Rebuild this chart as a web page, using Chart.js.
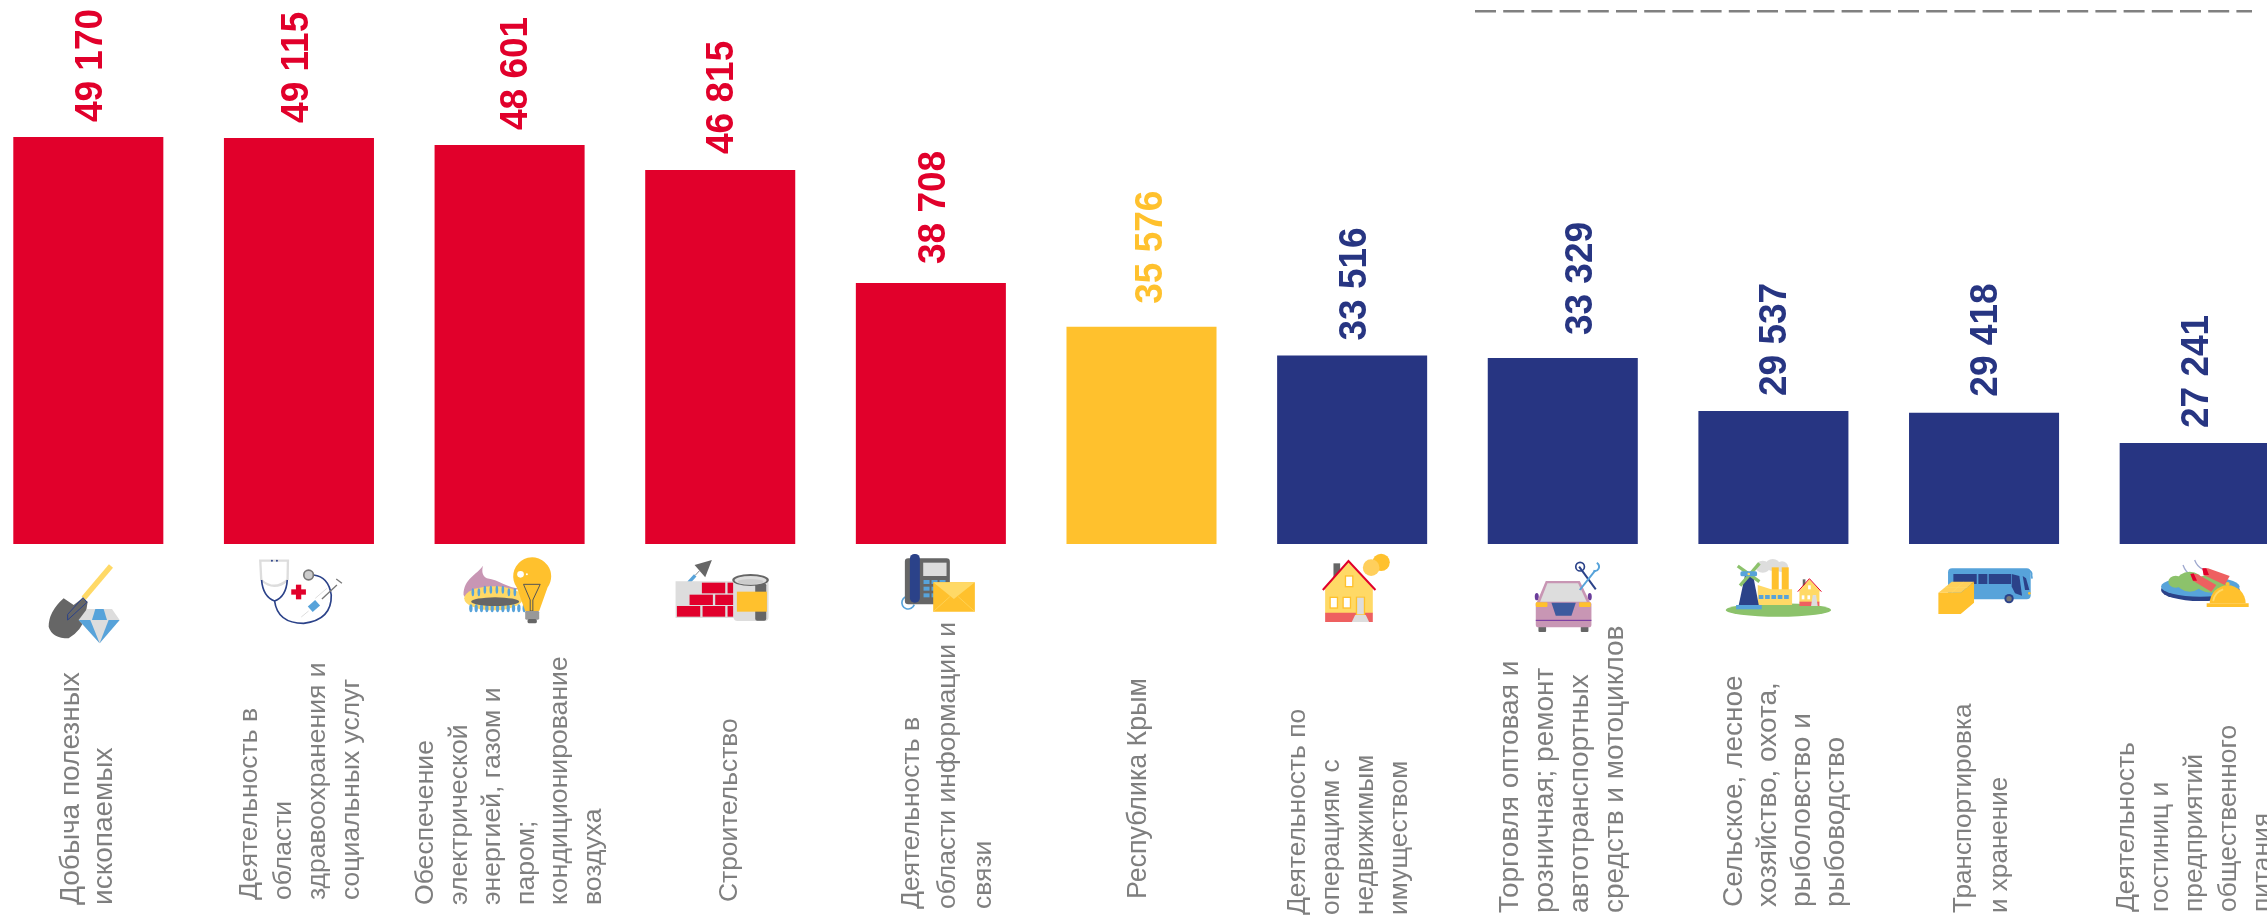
<!DOCTYPE html>
<html lang="ru">
<head>
<meta charset="utf-8">
<title>Chart</title>
<script src="https://cdn.jsdelivr.net/npm/chart.js@4"></script>
<style>
    html, body { margin: 0; padding: 0; background: #fff; overflow: hidden; width: 2267px; height: 915px; }
    #chart { position: absolute; left: -17px; top: 0; }
</style>
</head>
<body>
<canvas id="chart" width="2317" height="915"></canvas>
<script>
const categories = [
    ['Добыча полезных', 'ископаемых'],
    ['Деятельность в', 'области', 'здравоохранения и', 'социальных услуг'],
    ['Обеспечение', 'электрической', 'энергией, газом и', 'паром;', 'кондиционирование', 'воздуха'],
    ['Строительство'],
    ['Деятельность в', 'области информации и', 'связи'],
    ['Республика Крым'],
    ['Деятельность по', 'операциям с', 'недвижимым', 'имуществом'],
    ['Торговля оптовая и', 'розничная; ремонт', 'автотранспортных', 'средств и мотоциклов'],
    ['Сельское, лесное', 'хозяйство, охота,', 'рыболовство и', 'рыбоводство'],
    ['Транспортировка', 'и хранение'],
    ['Деятельность', 'гостиниц и', 'предприятий', 'общественного', 'питания']
];
const salaries = [49170, 49115, 48601, 46815, 38708, 35576, 33516, 33329, 29537, 29418, 27241];
const RED = '#e1002b', YELLOW = '#ffc12d', NAVY = '#273582';
const barColors = [RED, RED, RED, RED, RED, YELLOW, NAVY, NAVY, NAVY, NAVY, NAVY];

// the labels were placed by hand in the original, so each one has its own layout
const valueGaps = [15, 15, 15, 16, 19, 23, 15, 23, 15, 16, 15];
const valueShifts = [1, -4, 4, 0, 1, 8, 1, 16, 0, 0, 0];
const labelStarts = [905, 900, 905, 902, 909, 899, 915, 913, 907, 913, 912];
const labelSizes = [28, 26.5, 26.6, 26.4, 26.5, 26.8, 26.4, 28, 28, 26.1, 26.4];
const labelLeading = [33, 34, 33.5, 33, 36, 33, 33.8, 34.7, 34, 36, 34];
const labelShifts = [-1, 2, 0, 9, 17, -3, -3.5, 0, 12, -2, 0];

const GREY = '#7f7f7f', BLUE = '#57a3da', DARK = '#2b4289', AMBER = '#ffc12d', PALE = '#ffd966', ROSE = '#c896b4', GREEN = '#8cc26b', SLATE = '#666', LIGHT = '#ddd', SALMON = '#ee6060';

function poly(c, color, pts) {
    c.fillStyle = color;
    c.beginPath();
    for (let i = 0; i < pts.length; i += 2) {
        if (i === 0) c.moveTo(pts[0], pts[1]);
        else c.lineTo(pts[i], pts[i + 1]);
    }
    c.closePath();
    c.fill();
}
function box(c, color, x, y, w, h, r) {
    c.fillStyle = color;
    c.beginPath();
    c.roundRect(x, y, w, h, r || 0);
    c.fill();
}
function dot(c, color, x, y, rx, ry) {
    c.fillStyle = color;
    c.beginPath();
    c.ellipse(x, y, rx, ry || rx, 0, 0, Math.PI * 2);
    c.fill();
}
function line(c, color, width, pts) {
    c.strokeStyle = color;
    c.lineWidth = width;
    c.beginPath();
    for (let i = 0; i < pts.length; i += 2) {
        if (i === 0) c.moveTo(pts[0], pts[1]);
        else c.lineTo(pts[i], pts[i + 1]);
    }
    c.stroke();
}

// icons are drawn at 3x, each one with its own offset from the bar centre
const icons = [
    { dx: -48, dy: 5, draw(c) {
        line(c, PALE, 16, [212, 33, 130, 130]);
        c.fillStyle = SLATE;
        c.beginPath();
        c.moveTo(70, 130);
        c.quadraticCurveTo(25, 170, 25, 215);
        c.quadraticCurveTo(35, 250, 85, 250);
        c.quadraticCurveTo(125, 225, 135, 185);
        c.lineTo(142, 140);
        c.lineTo(128, 128);
        c.lineTo(100, 150);
        c.closePath();
        c.fill();
        line(c, DARK, 3, [128, 128, 82, 178, 82, 195, 140, 142, 128, 128]);
        poly(c, LIGHT, [115, 195, 140, 162, 215, 162, 238, 195, 178, 265]);
        poly(c, BLUE, [155, 195, 165, 162, 190, 162, 200, 195]);
        poly(c, BLUE, [115, 195, 150, 195, 178, 265]);
        poly(c, BLUE, [238, 195, 205, 195, 178, 265]);
    } },
    { dx: -258.7, dy: 5, draw(c) {
        line(c, LIGHT, 7, [663, 75, 660, 17, 743, 17, 742, 75]);
        c.strokeStyle = LIGHT;
        c.beginPath();
        c.moveTo(663, 75);
        c.quadraticCurveTo(702, 110, 742, 75);
        c.stroke();
        c.strokeStyle = DARK;
        c.lineWidth = 5;
        c.beginPath();
        c.moveTo(664, 75);
        c.quadraticCurveTo(668, 125, 703, 138);
        c.quadraticCurveTo(738, 125, 741, 75);
        c.moveTo(703, 138);
        c.quadraticCurveTo(712, 205, 790, 205);
        c.quadraticCurveTo(875, 195, 873, 120);
        c.quadraticCurveTo(865, 65, 820, 60);
        c.stroke();
        dot(c, '#777', 805, 60, 17);
        dot(c, '#ccc', 805, 60, 12);
        dot(c, DARK, 695, 17, 3);
        dot(c, DARK, 710, 17, 3);
        box(c, RED, 767, 89, 16, 44);
        box(c, RED, 753, 103, 44, 16);
        line(c, '#777', 4, [890, 90, 845, 132]);
        line(c, '#777', 4, [888, 72, 905, 85]);
        line(c, LIGHT, 3, [860, 100, 825, 130]);
        line(c, BLUE, 22, [810, 163, 832, 143]);
        line(c, LIGHT, 3, [805, 168, 783, 186]);
    } },
    { dx: -469.4, dy: 5, draw(c) {
        c.fillStyle = ROSE;
        c.beginPath();
        c.moveTo(1328, 32);
        c.bezierCurveTo(1310, 60, 1270, 70, 1270, 120);
        c.lineTo(1290, 150);
        c.lineTo(1440, 100);
        c.bezierCurveTo(1400, 100, 1380, 75, 1340, 70);
        c.bezierCurveTo(1325, 60, 1325, 50, 1328, 32);
        c.fill();
        dot(c, PALE, 1360, 130, 88, 36);
        for (let i = 0; i < 8; i++) {
            dot(c, BLUE, 1298 + i * 18, 112 - (i > 1 && i < 6 ? 8 : 0), 4, 12);
        }
        for (let i = 0; i < 11; i++) {
            dot(c, BLUE, 1292 + i * 16, 160, 5, 12);
        }
        dot(c, SLATE, 1365, 140, 72, 13);
        c.fillStyle = AMBER;
        c.beginPath();
        c.arc(1476, 64, 57, Math.PI * 0.8, Math.PI * 0.2);
        c.lineTo(1497, 168);
        c.lineTo(1455, 168);
        c.closePath();
        c.fill();
        dot(c, '#fff', 1441, 58, 10);
        dot(c, '#fff', 1460, 58, 3);
        line(c, '#555', 3, [1450, 88, 1500, 88, 1478, 135, 1478, 168, 1470, 168, 1470, 135, 1450, 88]);
        box(c, '#999', 1455, 168, 42, 26, 4);
        box(c, '#666', 1462, 192, 28, 13, 5);
    } },
    { dx: -60, dy: 0, draw(c) {
        poly(c, SLATE, [155, 30, 103, 45, 135, 82]);
        line(c, BLUE, 10, [85, 98, 105, 76]);
        line(c, '#888', 3, [105, 76, 118, 62]);
        box(c, LIGHT, 46, 94, 175, 110);
        box(c, RED, 125, 98, 70, 32);
        box(c, RED, 202, 98, 17, 32);
        box(c, RED, 88, 134, 70, 31);
        box(c, RED, 165, 134, 54, 31);
        box(c, RED, 50, 168, 70, 32);
        box(c, RED, 127, 168, 68, 32);
        box(c, RED, 202, 168, 17, 32);
        box(c, LIGHT, 220, 90, 105, 123, 12);
        box(c, SLATE, 285, 100, 33, 112, 6);
        box(c, AMBER, 230, 125, 90, 60);
        dot(c, SLATE, 271, 90, 55, 18);
        dot(c, LIGHT, 271, 91, 48, 13);
        dot(c, '#ccc', 271, 95, 38, 8);
    } },
    { dx: -271, dy: 0, draw(c) {
        c.strokeStyle = BLUE;
        c.lineWidth = 5;
        c.beginPath();
        c.arc(745, 158, 19, Math.PI * 0.1, Math.PI * 1.6);
        c.stroke();
        box(c, SLATE, 735, 25, 135, 138, 10);
        box(c, DARK, 750, 12, 30, 146, 14);
        box(c, LIGHT, 790, 38, 70, 40);
        for (let row = 0; row < 3; row++) {
            for (let col = 0; col < 3; col++) {
                box(c, BLUE, 791 + col * 24, 90 + row * 20, 18, 12);
            }
        }
        box(c, AMBER, 820, 97, 125, 88);
        poly(c, PALE, [820, 97, 945, 97, 882, 147]);
        line(c, PALE, 2, [820, 185, 870, 140]);
        line(c, PALE, 2, [945, 185, 895, 140]);
    } },
    null,
    { dx: -52, dy: 0, draw(c) {
        box(c, SLATE, 100, 40, 20, 45);
        box(c, PALE, 75, 115, 143, 75);
        box(c, SALMON, 75, 188, 143, 28);
        poly(c, PALE, [145, 35, 70, 118, 222, 118]);
        line(c, RED, 6, [68, 120, 145, 33, 226, 120]);
        for (const w of [[134, 76, 26, 36], [88, 140, 26, 36], [127, 140, 26, 36]]) {
            box(c, AMBER, w[0], w[1], w[2], w[3]);
            box(c, '#fff', w[0] + 4, w[1] + 4, w[2] - 8, w[3] - 8);
        }
        box(c, AMBER, 167, 140, 28, 55);
        box(c, LIGHT, 171, 143, 20, 50);
        poly(c, LIGHT, [165, 195, 197, 195, 207, 216, 155, 216]);
        dot(c, AMBER, 243, 37, 26);
        dot(c, '#ffcf5c', 213, 53, 25);
    } },
    { dx: -263, dy: 0, draw(c) {
        dot(c, '#6a3d9a', 711, 140, 6, 11);
        dot(c, '#6a3d9a', 870, 140, 6, 11);
        poly(c, ROSE, [738, 93, 840, 93, 872, 160, 710, 160]);
        poly(c, LIGHT, [743, 100, 835, 100, 862, 158, 720, 158]);
        box(c, SLATE, 716, 228, 23, 18, 3);
        box(c, SLATE, 843, 228, 23, 18, 3);
        box(c, ROSE, 708, 155, 167, 77, 8);
        box(c, AMBER, 708, 157, 35, 14, 3);
        box(c, AMBER, 838, 157, 35, 14, 3);
        poly(c, '#3d5a9e', [755, 158, 828, 158, 815, 197, 768, 197]);
        line(c, '#7030a0', 3, [708, 211, 875, 211]);
        line(c, DARK, 6, [838, 50, 888, 118]);
        c.strokeStyle = DARK;
        c.lineWidth = 5;
        c.beginPath();
        c.arc(841, 50, 13, 0, Math.PI * 2);
        c.stroke();
        line(c, BLUE, 6, [840, 120, 886, 62]);
        c.strokeStyle = BLUE;
        c.beginPath();
        c.arc(885, 50, 13, -Math.PI * 0.35, Math.PI * 0.6);
        c.stroke();
    } },
    { dx: -64, dy: 0, draw(c) {
        dot(c, GREEN, 207, 180, 158, 20);
        dot(c, LIGHT, 160, 50, 22, 18);
        dot(c, LIGHT, 190, 45, 22, 18);
        dot(c, LIGHT, 218, 50, 18, 16);
        box(c, AMBER, 187, 52, 21, 70);
        box(c, AMBER, 217, 52, 21, 70);
        poly(c, PALE, [145, 105, 185, 118, 248, 118, 248, 165, 145, 165]);
        for (let i = 0; i < 5; i++) {
            box(c, BLUE, 148 + i * 19, 135, 14, 12);
        }
        poly(c, DARK, [108, 70, 130, 70, 148, 165, 88, 165]);
        box(c, BLUE, 80, 165, 77, 13);
        line(c, GREEN, 10, [85, 48, 150, 95]);
        line(c, GREEN, 10, [150, 40, 92, 107]);
        box(c, BLUE, 93, 64, 50, 15, 5);
        dot(c, PALE, 118, 72, 4);
        box(c, '#666', 280, 88, 8, 20);
        box(c, PALE, 270, 122, 60, 35);
        box(c, SALMON, 270, 155, 60, 13);
        poly(c, PALE, [300, 88, 268, 124, 334, 124]);
        line(c, RED, 3, [265, 125, 300, 86, 336, 125]);
        box(c, '#fff', 277, 136, 8, 12);
        box(c, '#fff', 294, 136, 8, 12);
        box(c, '#fff', 296, 106, 8, 12);
        poly(c, LIGHT, [310, 135, 320, 135, 325, 168, 305, 168]);
    } },
    { dx: -274, dy: 0, draw(c) {
        box(c, BLUE, 714, 55, 248, 93, 12);
        box(c, DARK, 730, 72, 70, 30);
        box(c, DARK, 805, 72, 27, 30);
        box(c, DARK, 836, 72, 67, 30);
        poly(c, DARK, [905, 72, 928, 78, 936, 137, 915, 130, 905, 110]);
        poly(c, DARK, [938, 78, 948, 85, 958, 120, 945, 120]);
        c.strokeStyle = BLUE;
        c.lineWidth = 5;
        c.beginPath();
        c.arc(955, 72, 10, -Math.PI * 0.6, Math.PI * 0.1);
        c.lineTo(966, 86);
        c.stroke();
        dot(c, DARK, 897, 146, 14);
        dot(c, '#777', 897, 146, 8);
        dot(c, AMBER, 958, 130, 4);
        poly(c, '#ffd05a', [685, 128, 725, 95, 792, 95, 752, 128]);
        poly(c, AMBER, [752, 128, 792, 95, 792, 158, 752, 192, 685, 192, 685, 128]);
        line(c, PALE, 2, [705, 112, 772, 112]);
        line(c, PALE, 2, [725, 128, 760, 97]);
    } },
    { dx: -485, dy: 0, draw(c) {
        c.strokeStyle = '#9fa9cf';
        c.lineWidth = 4;
        c.beginPath();
        c.moveTo(1420, 45);
        c.quadraticCurveTo(1428, 68, 1445, 75);
        c.moveTo(1455, 30);
        c.quadraticCurveTo(1462, 50, 1480, 58);
        c.stroke();
        dot(c, DARK, 1472, 120, 118, 33);
        dot(c, BLUE, 1472, 110, 118, 30);
        dot(c, GREEN, 1398, 95, 22, 18);
        dot(c, GREEN, 1440, 95, 38, 30);
        dot(c, GREEN, 1505, 100, 45, 28);
        poly(c, SALMON, [1442, 72, 1462, 72, 1520, 105, 1505, 125, 1450, 92]);
        poly(c, SALMON, [1478, 55, 1495, 55, 1560, 78, 1545, 105, 1482, 75]);
        poly(c, RED, [1442, 72, 1452, 70, 1462, 92, 1450, 92]);
        poly(c, RED, [1478, 55, 1490, 55, 1498, 75, 1482, 75]);
        dot(c, AMBER, 1554, 102, 6);
        c.fillStyle = AMBER;
        c.beginPath();
        c.arc(1554, 160, 54, Math.PI, 0);
        c.closePath();
        c.fill();
        box(c, AMBER, 1491, 160, 126, 11);
        c.strokeStyle = PALE;
        c.lineWidth = 5;
        c.beginPath();
        c.arc(1554, 160, 44, Math.PI * 1.05, Math.PI * 1.4);
        c.stroke();
    } }
];

const salaryTextPlugin = {
    id: 'salaryText',
    afterDatasetsDraw(chart) {
        const c = chart.ctx;
        const bars = chart.getDatasetMeta(0).data;
        c.save();
        c.font = 'bold 37px "Liberation Sans", Arial, sans-serif';
        c.textAlign = 'left';
        c.textBaseline = 'middle';
        bars.forEach((bar, i) => {
            const text = String(salaries[i]).replace(/\B(?=(\d{3})+$)/g, ' ');
            c.save();
            c.translate(bar.x + valueShifts[i], bar.y - valueGaps[i]);
            c.rotate(-Math.PI / 2);
            c.scale(1, 1.06);
            c.fillStyle = barColors[i];
            c.fillText(text, 0, 2);
            c.restore();
        });
        c.restore();
    }
};

const categoryTextPlugin = {
    id: 'categoryText',
    afterDraw(chart) {
        const c = chart.ctx;
        const x = chart.scales.x;
        c.save();
        c.fillStyle = GREY;
        c.textAlign = 'left';
        c.textBaseline = 'middle';
        categories.forEach((lines, i) => {
            const cx = x.getPixelForValue(i) + labelShifts[i];
            c.font = labelSizes[i] + 'px "Liberation Sans", Arial, sans-serif';
            lines.forEach((text, n) => {
                c.save();
                c.translate(cx + (n - (lines.length - 1) / 2) * labelLeading[i], labelStarts[i]);
                c.rotate(-Math.PI / 2);
                c.fillText(text, 0, 0);
                c.restore();
            });
        });
        c.restore();
    }
};

const iconPlugin = {
    id: 'categoryIcons',
    afterDraw(chart) {
        const c = chart.ctx;
        const x = chart.scales.x;
        icons.forEach((icon, i) => {
            if (!icon) return;
            c.save();
            c.translate(x.getPixelForValue(i) + icon.dx, 550 + icon.dy);
            c.scale(1 / 3, 1 / 3);
            icon.draw(c);
            c.restore();
        });
    }
};

const dashPlugin = {
    id: 'dashLine',
    afterDraw(chart) {
        const c = chart.ctx;
        c.save();
        c.strokeStyle = '#808080';
        c.lineWidth = 2.5;
        c.setLineDash([21, 7.2]);
        c.beginPath();
        c.moveTo(1492, 11.3);
        c.lineTo(2269, 11.3);
        c.stroke();
        c.restore();
    }
};

new Chart(document.getElementById('chart').getContext('2d'), {
    type: 'bar',
    data: {
        labels: categories,
        datasets: [{
            data: salaries,
            backgroundColor: barColors,
            barPercentage: 0.7123,
            categoryPercentage: 1
        }]
    },
    options: {
        responsive: false,
        animation: false,
        layout: { padding: { bottom: 371 } },
        plugins: { legend: { display: false }, tooltip: { enabled: false } },
        scales: {
            x: { display: false },
            y: { display: false, min: 20000, max: 59000 }
        }
    },
    plugins: [salaryTextPlugin, categoryTextPlugin, iconPlugin, dashPlugin]
});
</script>
</body>
</html>
